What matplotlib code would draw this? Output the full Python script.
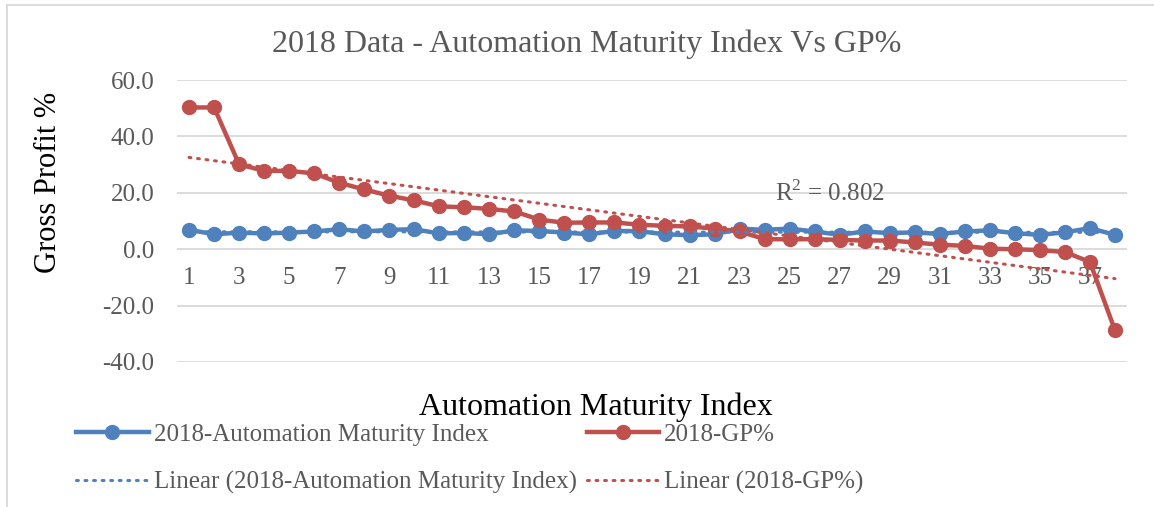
import numpy as np
import matplotlib.pyplot as plt
from matplotlib.lines import Line2D

# data
x_index = list(range(1, 39))
automation_2018 = [6.9, 5.3, 5.9, 5.6, 5.9, 6.3, 7.1, 6.3, 6.9, 7.1,
                   5.6, 5.8, 5.3, 6.7, 6.5, 5.9, 5.3, 6.5, 6.4, 5.3,
                   5.0, 5.3, 7.3, 6.9, 7.3, 6.3, 5.1, 6.3, 5.7, 6.0,
                   5.4, 6.3, 6.7, 5.7, 5.1, 6.0, 7.5, 5.1]
gp_2018 = [50.3, 50.3, 30.1, 27.8, 27.8, 26.9, 23.6, 21.2, 19.0, 17.3,
           15.2, 14.9, 14.3, 13.4, 10.5, 9.4, 9.5, 9.5, 8.7, 8.3,
           8.1, 7.3, 6.3, 3.6, 3.5, 3.6, 3.3, 3.1, 3.1, 2.4,
           1.6, 1.2, 0.2, 0.0, -0.3, -1.0, -4.5, -28.7]
y_ticks = [-40, -20, 0, 20, 40, 60]
x_tick_labels = [str(i) for i in range(1, 38, 2)]
r2_text = "R$^2$ = 0.802"

BLUE = "#4F81BD"
RED = "#C0504D"
GRAY = "#595959"
SERIF = ["Liberation Serif", "DejaVu Serif"]
plt.rcParams["font.family"] = SERIF
plt.rcParams["mathtext.fontset"] = "custom"
plt.rcParams["mathtext.rm"] = "Liberation Serif"

fig = plt.figure(figsize=(11.54, 5.07), dpi=100)
ax = fig.add_axes([0.153, 0.286, 0.824, 0.556])

x = np.array(x_index)
ax.plot(x, automation_2018, color=BLUE, lw=3.2, marker="o", ms=10, zorder=3)
ax.plot(x, gp_2018, color=RED, lw=3.2, marker="o", ms=10, zorder=3)

# linear trendlines
DOT = (0, (0.6, 2.2))
for ys, c in [(automation_2018, BLUE), (gp_2018, RED)]:
    k, b = np.polyfit(x, ys, 1)
    ax.plot(x, k * x + b, color=c, lw=2.2, ls=DOT,
            dash_capstyle="round", zorder=4)

ax.text(26.6, 20.0, r2_text, fontsize=18, color=GRAY, ha="center", va="center")

ax.set_xlim(0.5, 38.5)
ax.set_ylim(-40, 60)
ax.set_yticks(y_ticks)
ax.set_yticklabels([f"{v:.1f}" for v in y_ticks])
ax.set_xticks(range(1, 38, 2))
ax.set_xticklabels(x_tick_labels)
ax.grid(axis="y", color="#D9D9D9", lw=1.3)
ax.set_axisbelow(True)
for s in ["top", "right", "left"]:
    ax.spines[s].set_visible(False)
ax.spines["bottom"].set_position(("data", 0))
ax.spines["bottom"].set_visible(False)
ax.tick_params(axis="both", length=0, labelsize=18, labelcolor=GRAY)
ax.tick_params(axis="x", pad=13)
ax.tick_params(axis="y", pad=16)

fig.text(0.508, 0.912, "2018 Data - Automation Maturity Index Vs GP%",
         fontsize=23, color=GRAY, ha="center", va="center")
fig.text(0.042, 0.64, "Gross Profit %", fontsize=22, rotation=90,
         ha="center", va="center", color="black")
fig.text(0.516, 0.197, "Automation Maturity Index", fontsize=23,
         ha="center", va="center", color="black")

handles = [
    Line2D([], [], color=BLUE, lw=3.2, marker="o", ms=10),
    Line2D([], [], color=BLUE, lw=2.2, ls=DOT, dash_capstyle="round"),
    Line2D([], [], color=RED, lw=3.2, marker="o", ms=10),
    Line2D([], [], color=RED, lw=2.2, ls=DOT, dash_capstyle="round"),
]
labels = ["2018-Automation Maturity Index", "Linear (2018-Automation Maturity Index)",
          "2018-GP%", "Linear (2018-GP%)"]
leg = fig.legend(handles, labels, ncol=2, loc="upper left",
                 bbox_to_anchor=(0.066, 0.165), frameon=False, fontsize=18,
                 handlelength=2.9, handletextpad=0.2, columnspacing=0.4,
                 labelspacing=1.0, borderaxespad=0, borderpad=0)
for t in leg.get_texts():
    t.set_color(GRAY)

# chart frame (top and left edges visible in the reference)
fig.add_artist(Line2D([0.006, 1.0], [0.99, 0.99], color="#D9D9D9", lw=1.3,
                      transform=fig.transFigure))
fig.add_artist(Line2D([0.006, 0.006], [0.0, 0.99], color="#D9D9D9", lw=1.3,
                      transform=fig.transFigure))

fig.savefig("out.png", dpi=100)
